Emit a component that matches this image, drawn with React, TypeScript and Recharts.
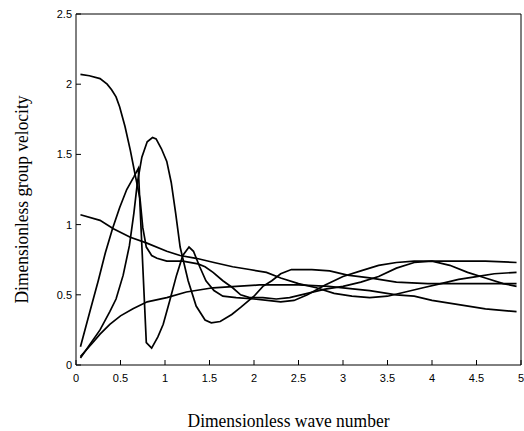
import { LineChart, Line, XAxis, YAxis, Label } from 'recharts';

// axis ticks
const waveTicks = [0, 0.5, 1, 1.5, 2, 2.5, 3, 3.5, 4, 4.5, 5];
const velTicks = [0, 0.5, 1, 1.5, 2, 2.5];

// mode 1 (starts near 2.07)
const kA = [0.05, 0.15, 0.27, 0.35, 0.4, 0.45, 0.49, 0.55, 0.61, 0.66, 0.72, 0.75, 0.79, 0.85, 0.91, 1.02, 1.2, 1.37, 1.45, 1.54, 1.65, 1.76, 1.85, 1.95, 2.1, 2.25, 2.4, 2.6, 2.8, 3.0, 3.2, 3.4, 3.6, 3.8, 4.0, 4.2, 4.4, 4.6, 4.8, 4.95];
const vA = [2.07, 2.06, 2.04, 2.0, 1.96, 1.91, 1.84, 1.7, 1.53, 1.37, 1.18, 0.98, 0.84, 0.78, 0.76, 0.74, 0.74, 0.72, 0.7, 0.66, 0.6, 0.55, 0.5, 0.48, 0.48, 0.47, 0.48, 0.51, 0.54, 0.56, 0.59, 0.63, 0.69, 0.73, 0.74, 0.71, 0.66, 0.62, 0.58, 0.56];

// mode 2 (peak 1.62)
const kB = [0.05, 0.15, 0.27, 0.38, 0.45, 0.53, 0.6, 0.65, 0.69, 0.74, 0.8, 0.86, 0.9, 0.96, 1.02, 1.07, 1.12, 1.17, 1.26, 1.35, 1.45, 1.52, 1.62, 1.75, 1.85, 2.0, 2.1, 2.2, 2.3, 2.42, 2.65, 2.85, 3.05, 3.3, 3.6, 3.95, 4.3, 4.65, 4.95];
const vB = [0.05, 0.14, 0.25, 0.38, 0.47, 0.64, 0.85, 1.08, 1.3, 1.48, 1.59, 1.62, 1.61, 1.54, 1.45, 1.3, 1.08, 0.84, 0.6, 0.42, 0.32, 0.3, 0.31, 0.36, 0.41, 0.49, 0.56, 0.6, 0.65, 0.68, 0.68, 0.67, 0.64, 0.62, 0.59, 0.58, 0.58, 0.58, 0.58];

// mode 3 (peak 1.40, sharp drop)
const kC = [0.05, 0.16, 0.25, 0.33, 0.41, 0.49, 0.57, 0.65, 0.7, 0.79, 0.85, 0.92, 0.98, 1.05, 1.13, 1.2, 1.27, 1.32, 1.39, 1.46, 1.55, 1.65, 1.8, 2.0, 2.15, 2.3, 2.45, 2.6, 2.8, 3.0, 3.2, 3.4, 3.6, 3.8, 4.0, 4.3, 4.6, 4.95];
const vC = [0.13, 0.39, 0.6, 0.8, 0.97, 1.12, 1.25, 1.34, 1.4, 0.16, 0.12, 0.2, 0.29, 0.45, 0.64, 0.78, 0.84, 0.81, 0.7, 0.6, 0.53, 0.49, 0.48, 0.47, 0.46, 0.45, 0.46, 0.5, 0.57, 0.63, 0.67, 0.71, 0.73, 0.74, 0.74, 0.74, 0.74, 0.73];

// mode 4 (slow rise)
const kD = [0.05, 0.12, 0.19, 0.27, 0.38, 0.5, 0.64, 0.8, 1.02, 1.24, 1.54, 1.8, 2.06, 2.3, 2.5, 2.84, 3.0, 3.3, 3.6, 3.8, 4.0, 4.3, 4.6, 4.95];
const vD = [0.06, 0.11, 0.16, 0.22, 0.29, 0.35, 0.4, 0.45, 0.48, 0.52, 0.55, 0.56, 0.57, 0.57, 0.57, 0.56, 0.55, 0.53, 0.5, 0.49, 0.46, 0.43, 0.4, 0.38];

// mode 5 (starts near 1.07)
const kE = [0.05, 0.27, 0.42, 0.61, 0.79, 1.02, 1.17, 1.35, 1.55, 1.76, 1.95, 2.14, 2.3, 2.5, 2.7, 2.9, 3.1, 3.3, 3.5, 3.7, 3.9, 4.1, 4.3, 4.5, 4.7, 4.95];
const vE = [1.07, 1.03, 0.97, 0.91, 0.87, 0.81, 0.78, 0.76, 0.73, 0.7, 0.68, 0.66, 0.62, 0.58, 0.55, 0.51, 0.49, 0.48, 0.49, 0.52, 0.55, 0.58, 0.61, 0.63, 0.65, 0.66];

const toPoints = (k: number[], v: number[]) => k.map((x, i) => ({ k: x, v: v[i] }));

const modes = [
  toPoints(kA, vA),
  toPoints(kB, vB),
  toPoints(kC, vC),
  toPoints(kD, vD),
  toPoints(kE, vE),
];

const tickFont = 'Liberation Sans, Arial, Helvetica, sans-serif';
const titleFont = 'Liberation Serif, Times New Roman, serif';

const BottomTick = ({ x, y, payload }: any) => (
  <g>
    <line x1={x} y1={y} x2={x} y2={y - 5} stroke="#000" />
    <text x={x} y={y + 17} textAnchor="middle" fontSize={11} fontFamily={tickFont} fill="#000">
      {payload.value}
    </text>
  </g>
);

const TopTick = ({ x, y }: any) => <line x1={x} y1={y} x2={x} y2={y + 5} stroke="#000" />;

const LeftTick = ({ x, y, payload }: any) => (
  <g>
    <line x1={x} y1={y} x2={x + 5} y2={y} stroke="#000" />
    <text x={x - 4} y={y + 4} textAnchor="end" fontSize={11} fontFamily={tickFont} fill="#000">
      {payload.value}
    </text>
  </g>
);

const RightTick = ({ x, y }: any) => <line x1={x} y1={y} x2={x - 5} y2={y} stroke="#000" />;

const XTitle = ({ viewBox }: any) => (
  <text
    x={viewBox.x + viewBox.width / 2 - 10}
    y={viewBox.y + 62}
    textAnchor="middle"
    fontSize={18}
    fontFamily={titleFont}
    fill="#000"
    textLength={202}
    lengthAdjust="spacingAndGlyphs"
  >
    Dimensionless wave number
  </text>
);

const YTitle = ({ viewBox }: any) => {
  const cx = viewBox.x - 47;
  const cy = viewBox.y + viewBox.height / 2 + 10;
  return (
    <text
      x={cx}
      y={cy}
      transform={`rotate(-90, ${cx}, ${cy})`}
      textAnchor="middle"
      fontSize={18}
      fontFamily={titleFont}
      fill="#000"
      textLength={208}
      lengthAdjust="spacingAndGlyphs"
    >
      Dimensionless group velocity
    </text>
  );
};

export default function App() {
  return (
    <div style={{ position: 'absolute', left: 0, top: 0, background: '#fff' }}>
      <LineChart width={524} height={431} margin={{ top: 13, right: 2, bottom: 65, left: 75 }}>
        <XAxis
          dataKey="k"
          type="number"
          domain={[0, 5]}
          ticks={waveTicks}
          height={1}
          tickSize={0}
          tickMargin={0}
          tickLine={false}
          axisLine={{ stroke: '#000' }}
          tick={<BottomTick />}
          interval={0}
          allowDuplicatedCategory={false}
        >
          <Label content={<XTitle />} />
        </XAxis>
        <XAxis
          xAxisId="top"
          orientation="top"
          dataKey="k"
          type="number"
          domain={[0, 5]}
          ticks={waveTicks}
          height={1}
          tickSize={0}
          tickMargin={0}
          tickLine={false}
          axisLine={{ stroke: '#000' }}
          tick={<TopTick />}
          interval={0}
        />
        <YAxis
          type="number"
          domain={[0, 2.5]}
          ticks={velTicks}
          width={1}
          tickSize={0}
          tickMargin={0}
          tickLine={false}
          axisLine={{ stroke: '#000' }}
          tick={<LeftTick />}
          interval={0}
        >
          <Label content={<YTitle />} />
        </YAxis>
        <YAxis
          yAxisId="right"
          orientation="right"
          type="number"
          domain={[0, 2.5]}
          ticks={velTicks}
          width={1}
          tickSize={0}
          tickMargin={0}
          tickLine={false}
          axisLine={{ stroke: '#000' }}
          tick={<RightTick />}
          interval={0}
        />
        {modes.map((pts, i) => (
          <Line
            key={i}
            data={pts}
            dataKey="v"
            type="linear"
            stroke="#000"
            strokeWidth={1.7}
            dot={false}
            activeDot={false}
            isAnimationActive={false}
          />
        ))}
      </LineChart>
    </div>
  );
}
